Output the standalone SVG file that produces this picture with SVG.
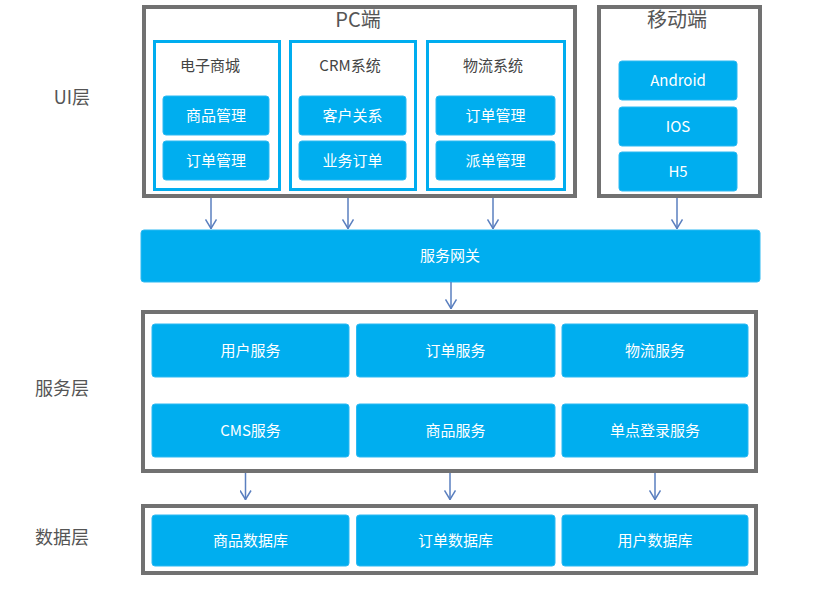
<svg xmlns="http://www.w3.org/2000/svg" width="817" height="590" viewBox="0 0 817 590">
<defs>
<style>
.frame{fill:#fff;stroke:#717171;stroke-width:4}
.sys{fill:#fff;stroke:#00adef;stroke-width:3}
.blk{fill:#00aeef;stroke:#2cb9f2;stroke-width:1}
.wt{fill:#fff;font-family:"Noto Sans CJK SC","Liberation Sans",sans-serif;font-size:15px;text-anchor:middle;dominant-baseline:central}
.dk{fill:#444;font-family:"Noto Sans CJK SC","Liberation Sans",sans-serif;font-size:15px;text-anchor:middle;dominant-baseline:central}
.hd{fill:#555;font-family:"Noto Sans CJK SC","Liberation Sans",sans-serif;font-size:20px;text-anchor:middle;dominant-baseline:central}
.lb{fill:#555;font-family:"Noto Sans CJK SC","Liberation Sans",sans-serif;font-size:18px;text-anchor:middle;dominant-baseline:central}
.ar{stroke:#5a7fbf;stroke-width:1.5;fill:none;marker-end:url(#ah)}
</style>
<marker id="ah" markerUnits="userSpaceOnUse" viewBox="0 0 12 10" markerWidth="12" markerHeight="10" refX="6" refY="10" orient="0">
<path d="M0.5,0.5 L6,9.5 L11.5,0.5" fill="none" stroke="#5a7fbf" stroke-width="1.5"/>
</marker>
</defs>
<rect width="817" height="590" fill="#fff"/>

<g id="labels">
<text class="lb" x="72" y="95.5">UI层</text>
<text class="lb" x="62" y="386.5">服务层</text>
<text class="lb" x="62" y="535.5">数据层</text>
</g>

<g id="pc">
<rect class="frame" x="144" y="7" width="431" height="189"/>
<text class="hd" x="358" y="18.5">PC端</text>
</g>

<g id="mall">
<rect class="sys" x="154.5" y="41.5" width="125" height="148"/>
<text class="dk" x="210" y="64.5">电子商城</text>
<rect class="blk" x="163" y="96" width="106" height="39" rx="3"/>
<text class="wt" x="216" y="114">商品管理</text>
<rect class="blk" x="163" y="141" width="106" height="39" rx="3"/>
<text class="wt" x="216" y="159">订单管理</text>
</g>

<g id="crm">
<rect class="sys" x="290.5" y="41.5" width="125" height="148"/>
<text class="dk" x="350" y="64.5">CRM系统</text>
<rect class="blk" x="299" y="96" width="107" height="39" rx="3"/>
<text class="wt" x="352.5" y="114">客户关系</text>
<rect class="blk" x="299" y="141" width="107" height="39" rx="3"/>
<text class="wt" x="352.5" y="159">业务订单</text>
</g>

<g id="logistics">
<rect class="sys" x="427.5" y="41.5" width="137" height="148"/>
<text class="dk" x="493" y="64.5">物流系统</text>
<rect class="blk" x="436" y="96" width="119" height="39" rx="3"/>
<text class="wt" x="495.5" y="114">订单管理</text>
<rect class="blk" x="436" y="141" width="119" height="39" rx="3"/>
<text class="wt" x="495.5" y="159">派单管理</text>
</g>

<g id="mobile">
<rect class="frame" x="599" y="7" width="161" height="189"/>
<text class="hd" x="677" y="18.5">移动端</text>
<rect class="blk" x="619" y="61" width="118" height="39" rx="3"/>
<text class="wt" x="678" y="79">Android</text>
<rect class="blk" x="619" y="107" width="118" height="39" rx="3"/>
<text class="wt" x="678" y="125">IOS</text>
<rect class="blk" x="619" y="152" width="118" height="39" rx="3"/>
<text class="wt" x="678" y="170">H5</text>
</g>

<g id="gateway">
<rect class="blk" x="141" y="230" width="619" height="52" rx="3"/>
<text class="wt" x="450" y="254.5">服务网关</text>
</g>

<g id="services">
<rect class="frame" x="143" y="312" width="613" height="159"/>
<rect class="blk" x="152" y="324" width="197" height="53" rx="3"/>
<text class="wt" x="250.5" y="349">用户服务</text>
<rect class="blk" x="356.5" y="324" width="198.5" height="53" rx="3"/>
<text class="wt" x="455.5" y="349">订单服务</text>
<rect class="blk" x="562" y="324" width="186" height="53" rx="3"/>
<text class="wt" x="655" y="349">物流服务</text>
<rect class="blk" x="152" y="404" width="197" height="53" rx="3"/>
<text class="wt" x="250.5" y="429">CMS服务</text>
<rect class="blk" x="356.5" y="404" width="198.5" height="53" rx="3"/>
<text class="wt" x="455.5" y="429">商品服务</text>
<rect class="blk" x="562" y="404" width="186" height="53" rx="3"/>
<text class="wt" x="655" y="429">单点登录服务</text>
</g>

<g id="data">
<rect class="frame" x="143" y="506" width="613" height="67"/>
<rect class="blk" x="152" y="515" width="197" height="51" rx="3"/>
<text class="wt" x="250.5" y="539">商品数据库</text>
<rect class="blk" x="356.5" y="515" width="198.5" height="51" rx="3"/>
<text class="wt" x="455.5" y="539">订单数据库</text>
<rect class="blk" x="562" y="515" width="186" height="51" rx="3"/>
<text class="wt" x="655" y="539">用户数据库</text>
</g>

<g id="connectors">
<path class="ar" d="M211,198 V229"/>
<path class="ar" d="M348,198 V229"/>
<path class="ar" d="M493,198 V229"/>
<path class="ar" d="M677,198 V229"/>
<path class="ar" d="M451,282 V309"/>
<path class="ar" d="M245.5,473 V500"/>
<path class="ar" d="M450,473 V500"/>
<path class="ar" d="M655,473 V500"/>
</g>
</svg>
